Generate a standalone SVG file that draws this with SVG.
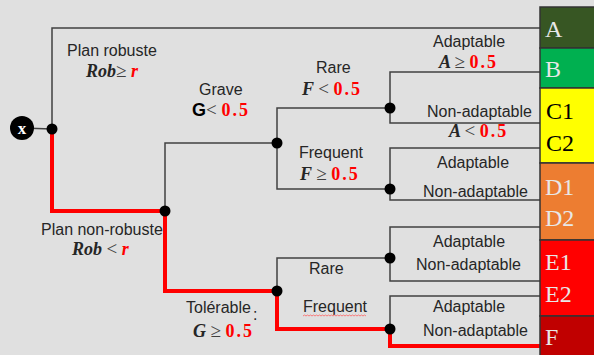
<svg xmlns="http://www.w3.org/2000/svg" width="594" height="355" viewBox="0 0 594 355">
<style>
.bg{fill:#e0e0e0}
.ln{fill:none;stroke:#404040;stroke-width:1.5}
.rd{fill:none;stroke:#ff0000;stroke-width:4;stroke-linejoin:miter}
.dot{fill:#000}
.lbl{font-family:"Liberation Sans",Arial,sans-serif;font-size:16px;fill:#262626}
.m{font-family:"Liberation Serif","Times New Roman",serif;font-size:18px;font-weight:bold;font-style:italic;fill:#262626}
.op{font-weight:normal;font-style:normal;fill:#404040;font-size:19px}
.red{fill:#ff0000;font-style:normal;font-weight:bold;letter-spacing:2px}
.rv{fill:#ff0000}
.col{font-family:"Liberation Serif","Times New Roman",serif;font-size:24px;fill:#e8e8e8}
</style>
<rect class="bg" x="0" y="0" width="594" height="355"/>

<g id="connectors">
  <line class="ln" x1="22" y1="128" x2="52" y2="129"/>
  <polyline class="ln" points="52,129 52,28 540,28"/>
  <polyline class="rd" points="52,129 52,211 165,211"/>
  <polyline class="ln" points="165,211 165,143 277,143"/>
  <polyline class="ln" points="277,143 277,108 390,108"/>
  <polyline class="ln" points="540,72 390,72 390,123 540,123"/>
  <polyline class="ln" points="277,143 277,189 390,189"/>
  <polyline class="ln" points="540,148 390,148 390,200 540,200"/>
  <polyline class="rd" points="165,211 165,291 277,291"/>
  <polyline class="ln" points="277,291 277,258 390,258"/>
  <polyline class="ln" points="540,227 390,227 390,281 540,281"/>
  <polyline class="rd" points="277,291 277,329 390,329"/>
  <polyline class="ln" points="540,296 390,296 390,329"/>
  <polyline class="rd" points="390,329 390,346 540,346"/>
</g>

<g id="node-x">
  <circle cx="22" cy="128" r="12" fill="#000"/>
  <text x="22" y="134" text-anchor="middle" font-family="Liberation Serif,serif" font-size="17" font-weight="bold" fill="#fff">x</text>
</g>
<g id="node-root"><circle class="dot" cx="52" cy="129" r="5.5"/></g>
<g id="node-nonrobust"><circle class="dot" cx="165" cy="211" r="5.5"/></g>
<g id="node-grave"><circle class="dot" cx="277" cy="143" r="5.5"/></g>
<g id="node-grave-rare"><circle class="dot" cx="390" cy="108" r="5.5"/></g>
<g id="node-grave-freq"><circle class="dot" cx="390" cy="189" r="5.5"/></g>
<g id="node-tol"><circle class="dot" cx="277" cy="291" r="5.5"/></g>
<g id="node-tol-rare"><circle class="dot" cx="390" cy="258" r="5.5"/></g>
<g id="node-tol-freq"><circle class="dot" cx="390" cy="329" r="5.5"/></g>

<g id="labels">
  <text class="lbl" x="67" y="56">Plan robuste</text>
  <text class="m" x="86" y="77">Rob<tspan class="op">≥</tspan><tspan class="rv"> r</tspan></text>
  <text class="lbl" x="41" y="235">Plan non-robuste</text>
  <text class="m" x="72" y="255">Rob <tspan class="op">&lt;</tspan> <tspan class="rv">r</tspan></text>

  <text class="lbl" x="199" y="95">Grave</text>
  <text class="m" x="192" y="116"><tspan font-family="Liberation Sans,sans-serif" font-style="normal" fill="#000">G</tspan><tspan class="op">&lt; </tspan><tspan class="red">0.5</tspan></text>
  <text class="lbl" x="186" y="313">Tolérable</text>
  <text class="lbl" x="253" y="320" font-size="12">:</text>
  <text class="m" x="193" y="337">G <tspan class="op">≥</tspan> <tspan class="red">0.5</tspan></text>

  <text class="lbl" x="316" y="73">Rare</text>
  <text class="m" x="302" y="95">F <tspan class="op">&lt;</tspan> <tspan class="red">0.5</tspan></text>
  <text class="lbl" x="299" y="158">Frequent</text>
  <text class="m" x="300" y="180">F <tspan class="op">≥</tspan> <tspan class="red">0.5</tspan></text>

  <text class="lbl" x="309" y="274">Rare</text>
  <text class="lbl" x="303" y="312">Frequent</text>
  <path d="M303,316 l1.5,-1 l1.5,1 l1.5,-1 l1.5,1 l1.5,-1 l1.5,1 l1.5,-1 l1.5,1 l1.5,-1 l1.5,1 l1.5,-1 l1.5,1 l1.5,-1 l1.5,1 l1.5,-1 l1.5,1 l1.5,-1 l1.5,1 l1.5,-1 l1.5,1 l1.5,-1 l1.5,1 l1.5,-1 l1.5,1 l1.5,-1 l1.5,1 l1.5,-1 l1.5,1 l1.5,-1 l1.5,1 l1.5,-1 l1.5,1 l1.5,-1 l1.5,1 l1.5,-1 l1.5,1 l1.5,-1 l1.5,1 l1.5,-1 l1.5,1 l1.5,-1 l1.5,1" fill="none" stroke="#ff6060" stroke-width="0.8"/>

  <text class="lbl" x="433" y="47">Adaptable</text>
  <text class="m" x="439" y="68">A <tspan class="op">≥</tspan> <tspan class="red">0.5</tspan></text>
  <text class="lbl" x="427" y="117">Non-adaptable</text>
  <text class="m" x="449" y="137">A <tspan class="op">&lt;</tspan> <tspan class="red">0.5</tspan></text>
  <text class="lbl" x="437" y="168">Adaptable</text>
  <text class="lbl" x="423" y="197">Non-adaptable</text>
  <text class="lbl" x="433" y="247">Adaptable</text>
  <text class="lbl" x="416" y="270">Non-adaptable</text>
  <text class="lbl" x="433" y="312">Adaptable</text>
  <text class="lbl" x="423" y="336">Non-adaptable</text>
</g>

<g id="column">
  <g id="cat-A"><rect x="540" y="7" width="56" height="41" fill="#375623" stroke="#333" stroke-width="1.5"/><text class="col" x="545" y="37">A</text></g>
  <g id="cat-B"><rect x="540" y="48" width="56" height="40" fill="#00b050" stroke="#333" stroke-width="1.5"/><text class="col" x="545" y="77">B</text></g>
  <g id="cat-C"><rect x="540" y="88" width="56" height="75" fill="#ffff00" stroke="#333" stroke-width="1.5"/><text class="col" x="546" y="119" style="fill:#000">C1</text><text class="col" x="546" y="151" style="fill:#000">C2</text></g>
  <g id="cat-D"><rect x="540" y="163" width="56" height="77" fill="#ed7d31" stroke="#333" stroke-width="1.5"/><text class="col" x="545" y="195">D1</text><text class="col" x="545" y="226">D2</text></g>
  <g id="cat-E"><rect x="540" y="240" width="56" height="76" fill="#ff0000" stroke="#333" stroke-width="1.5"/><text class="col" x="545" y="270">E1</text><text class="col" x="545" y="302">E2</text></g>
  <g id="cat-F"><rect x="540" y="316" width="56" height="42" fill="#c00000" stroke="#333" stroke-width="1.5"/><text class="col" x="545" y="345">F</text></g>
</g>
</svg>
